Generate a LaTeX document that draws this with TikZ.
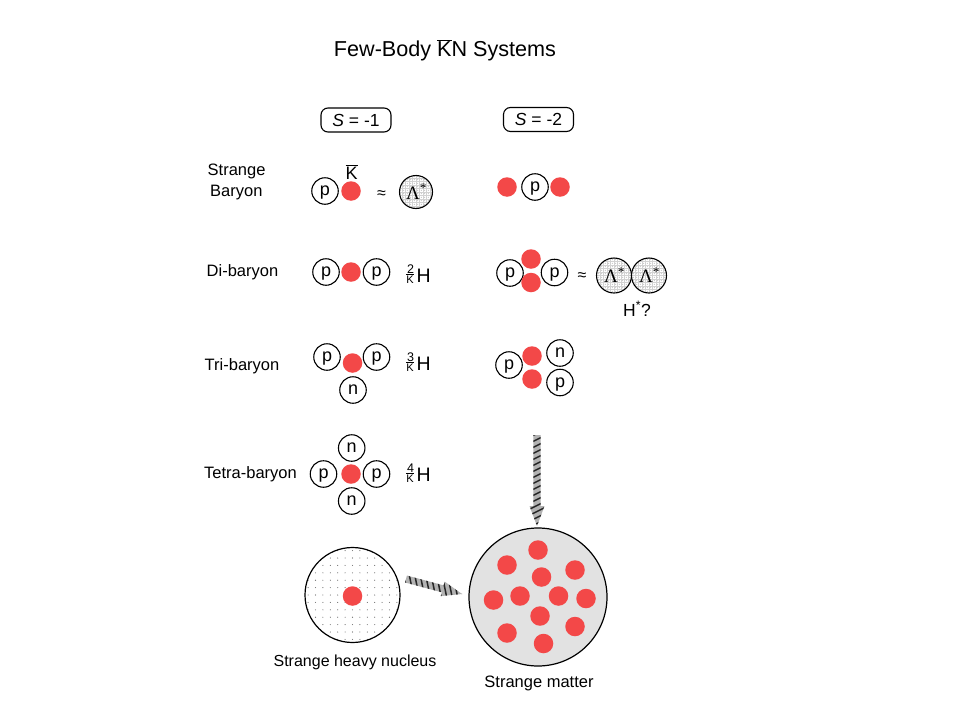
\documentclass[tikz,border=0pt]{standalone}
\usepackage{fontspec}
\setmainfont{Liberation Sans}
\newfontfamily\lamfont{Liberation Serif}
\newcommand\fsz[1]{\fontsize{#1}{#1}\selectfont}
\newcommand\kbar{\ensuremath{\overline{\mbox{K}}}}
\definecolor{kred}{RGB}{243,72,72}
\definecolor{smgray}{RGB}{226,226,226}
\tikzset{
  nuc/.style={circle, draw, line width=1.1pt, minimum size=26.5pt, inner sep=0pt, text depth=0pt, font=\fsz{18}},
  kaon/.style={circle, fill=kred, minimum size=19.5pt, inner sep=0pt},
  lab/.style={anchor=base west, font=\fsz{16.5}, inner sep=0pt},
  sbox/.style={draw, rounded corners=7pt, line width=1.1pt, minimum width=70pt, minimum height=24pt, inner sep=0pt, font=\fsz{17.5}},
  hbig/.style={anchor=base west, font=\fsz{19.5}, inner sep=0pt},
  hsup/.style={anchor=base, font=\fsz{12.5}, inner sep=0pt},
  hsub/.style={anchor=base, font=\fsz{11}, inner sep=0pt},
  lamtxt/.style={anchor=base, font=\lamfont\fsz{19}, inner sep=0pt},
  approx/.style={font=\fsz{16}, inner sep=0pt},
  lamcircle/.style={circle, draw, line width=1.1pt, inner sep=0pt},
}
% hatched block arrow: #1 tail point, #2 angle, #3 length
\newcommand\hatcharrow[3]{%
  \begin{scope}[shift={#1}, rotate=#2]
    \path[fill=gray!60] (0,-3.6)--(#3-20,-3.6)--(#3-20,-7.5)--(#3,0)--(#3-20,7.5)--(#3-20,3.6)--(0,3.6)--cycle;
    \begin{scope}
      \clip (0,-3.6)--(#3-20,-3.6)--(#3-20,-7.5)--(#3,0)--(#3-20,7.5)--(#3-20,3.6)--(0,3.6)--cycle;
      \foreach \s in {-12,-6,...,#3} \draw[black!85, line width=1.5pt] (\s,-9)--(\s+9,9);
    \end{scope}
  \end{scope}}
% lambda-star circle: #1 name, #2 x, #3 y, #4 radius
\newcommand\lamcirc[4]{%
  \fill[white] (#2,#3) circle (#4pt);
  \begin{scope}
    \clip (#2,#3) circle (#4pt);
    \foreach \i in {-6,...,6} {
      \draw[gray!35, line width=0.3pt] (#2+\i*3.5,#3-20)--(#2+\i*3.5,#3+20);
      \draw[gray!35, line width=0.3pt] (#2-20,#3+\i*3.5)--(#2+20,#3+\i*3.5);
      \foreach \j in {-6,...,6} \fill[black!55] (#2+\i*3.5+1.75,#3+\j*3.5+1.75) circle (0.4pt);
    }
  \end{scope}
  \node[lamcircle, minimum size=#4*2pt] (#1) at (#2,#3) {};
  \node[lamtxt] (#1t) at (#2+0.5,#3+7) {Λ\textsuperscript{*}};}
\begin{document}
\begin{tikzpicture}[x={(1pt,0)}, y={(0,-1pt)}]
\useasboundingbox[fill=white] (0,0) rectangle (960,720);

% title
\node[anchor=base, font=\fsz{21.6}, inner sep=0pt] (title) at (445,56) {Few-Body \kbar N Systems};

% strangeness boxes
\node[sbox] (s1) at (356,120) {\textit{S} = -1};
\node[sbox] (s2) at (538.5,119.5) {\textit{S} = -2};

% row labels
\node[lab] (strange) at (207.5,175) {Strange};
\node[lab] (baryon) at (210,196.5) {Baryon};
\node[lab] (di) at (206.5,276.5) {Di-baryon};
\node[lab] (tri) at (204.5,370) {Tri-baryon};
\node[lab] (tetra) at (204,478.3) {Tetra-baryon};

% ---- row 1, S=-1
\node[nuc] (a1p) at (325,191) {p};
\node[kaon] (a1k) at (351,191) {};
\node[anchor=base, font=\fsz{18}, inner sep=0pt] (a1kl) at (351.5,179) {\kbar};
\node[approx] (a1ap) at (381.5,194.5) {≈};
\lamcirc{lamA}{416}{192}{16.5}

% ---- row 1, S=-2
\node[kaon] (b1k1) at (507,187) {};
\node[nuc] (b1p) at (535,187) {p};
\node[kaon] (b1k2) at (560,187) {};

% ---- row 2, S=-1
\node[nuc] (a2p1) at (326,272) {p};
\node[kaon] (a2k) at (351,272) {};
\node[nuc] (a2p2) at (376.5,272) {p};
\node[hbig] (a2H) at (416.5,282.3) {H};
\node[hsup] (a2A) at (410.5,273.3) {2};
\node[hsub] (a2K) at (410,283.3) {\kbar};

% ---- row 2, S=-2
\node[nuc] (b2p1) at (510,273) {p};
\node[kaon] (b2k1) at (531,259) {};
\node[kaon] (b2k2) at (531,282.5) {};
\node[nuc] (b2p2) at (554.5,272.5) {p};
\node[approx] (b2ap) at (582,277) {≈};
\lamcirc{lamB}{614}{275.5}{17.5}
\lamcirc{lamC}{649}{275.5}{17.5}
\node[anchor=base, font=\fsz{17.5}, inner sep=0pt] (hstar) at (637,316) {H\textsuperscript{*}?};

% ---- row 3, S=-1
\node[nuc] (a3p1) at (327,357) {p};
\node[kaon] (a3k) at (352.5,363) {};
\node[nuc] (a3p2) at (376.5,357) {p};
\node[nuc] (a3n) at (353,390) {n};
\node[hbig] (a3H) at (416.5,370.5) {H};
\node[hsup] (a3A) at (410.5,361.5) {3};
\node[hsub] (a3K) at (410,371.5) {\kbar};

% ---- row 3, S=-2
\node[nuc] (b3p1) at (509,365) {p};
\node[kaon] (b3k1) at (532,356) {};
\node[nuc] (b3n) at (560,353) {n};
\node[kaon] (b3k2) at (532,379) {};
\node[nuc] (b3p2) at (560,382.5) {p};

% ---- row 4, S=-1
\node[nuc] (a4n1) at (351.7,448) {n};
\node[nuc] (a4p1) at (323.5,474) {p};
\node[kaon] (a4k) at (351,474) {};
\node[nuc] (a4p2) at (376.5,474) {p};
\node[nuc] (a4n2) at (351.7,501) {n};
\node[hbig] (a4H) at (416.5,481.5) {H};
\node[hsup] (a4A) at (410.5,472.5) {4};
\node[hsub] (a4K) at (410,482.5) {\kbar};

% ---- arrow down
\hatcharrow{(537,435)}{-90}{91}

% ---- strange heavy nucleus
\begin{scope}
  \clip (352.5,595) circle (47.5pt);
  \foreach \i in {-7,...,7} \foreach \j in {-7,...,7}
    \fill[black!60] (352.5+\i*7.4,595+\j*7.4) circle (0.55pt);
\end{scope}
\node[circle, draw, line width=1.2pt, minimum size=95pt, inner sep=0pt] (shn) at (352.5,595) {};
\node[kaon] (shnk) at (352.5,596) {};
\node[anchor=base, font=\fsz{16}, inner sep=0pt] (shnl) at (355,666) {Strange heavy nucleus};

% ---- arrow right
\hatcharrow{(406,579)}{-15}{58}

% ---- strange matter
\node[circle, draw, fill=smgray, line width=1.2pt, minimum size=138pt, inner sep=0pt] (sm) at (538,597) {};
\foreach \x/\y [count=\c] in {538/550, 507/565, 575/570, 541.5/577, 493.5/600, 520/596, 558.5/596, 586/598.5, 540/616, 507/633, 575/626.5, 543.5/643.5}
  \node[kaon] (smk\c) at (\x,\y) {};
\node[anchor=base, font=\fsz{16.5}, inner sep=0pt] (sml) at (539,687) {Strange matter};
\end{tikzpicture}
\end{document}
